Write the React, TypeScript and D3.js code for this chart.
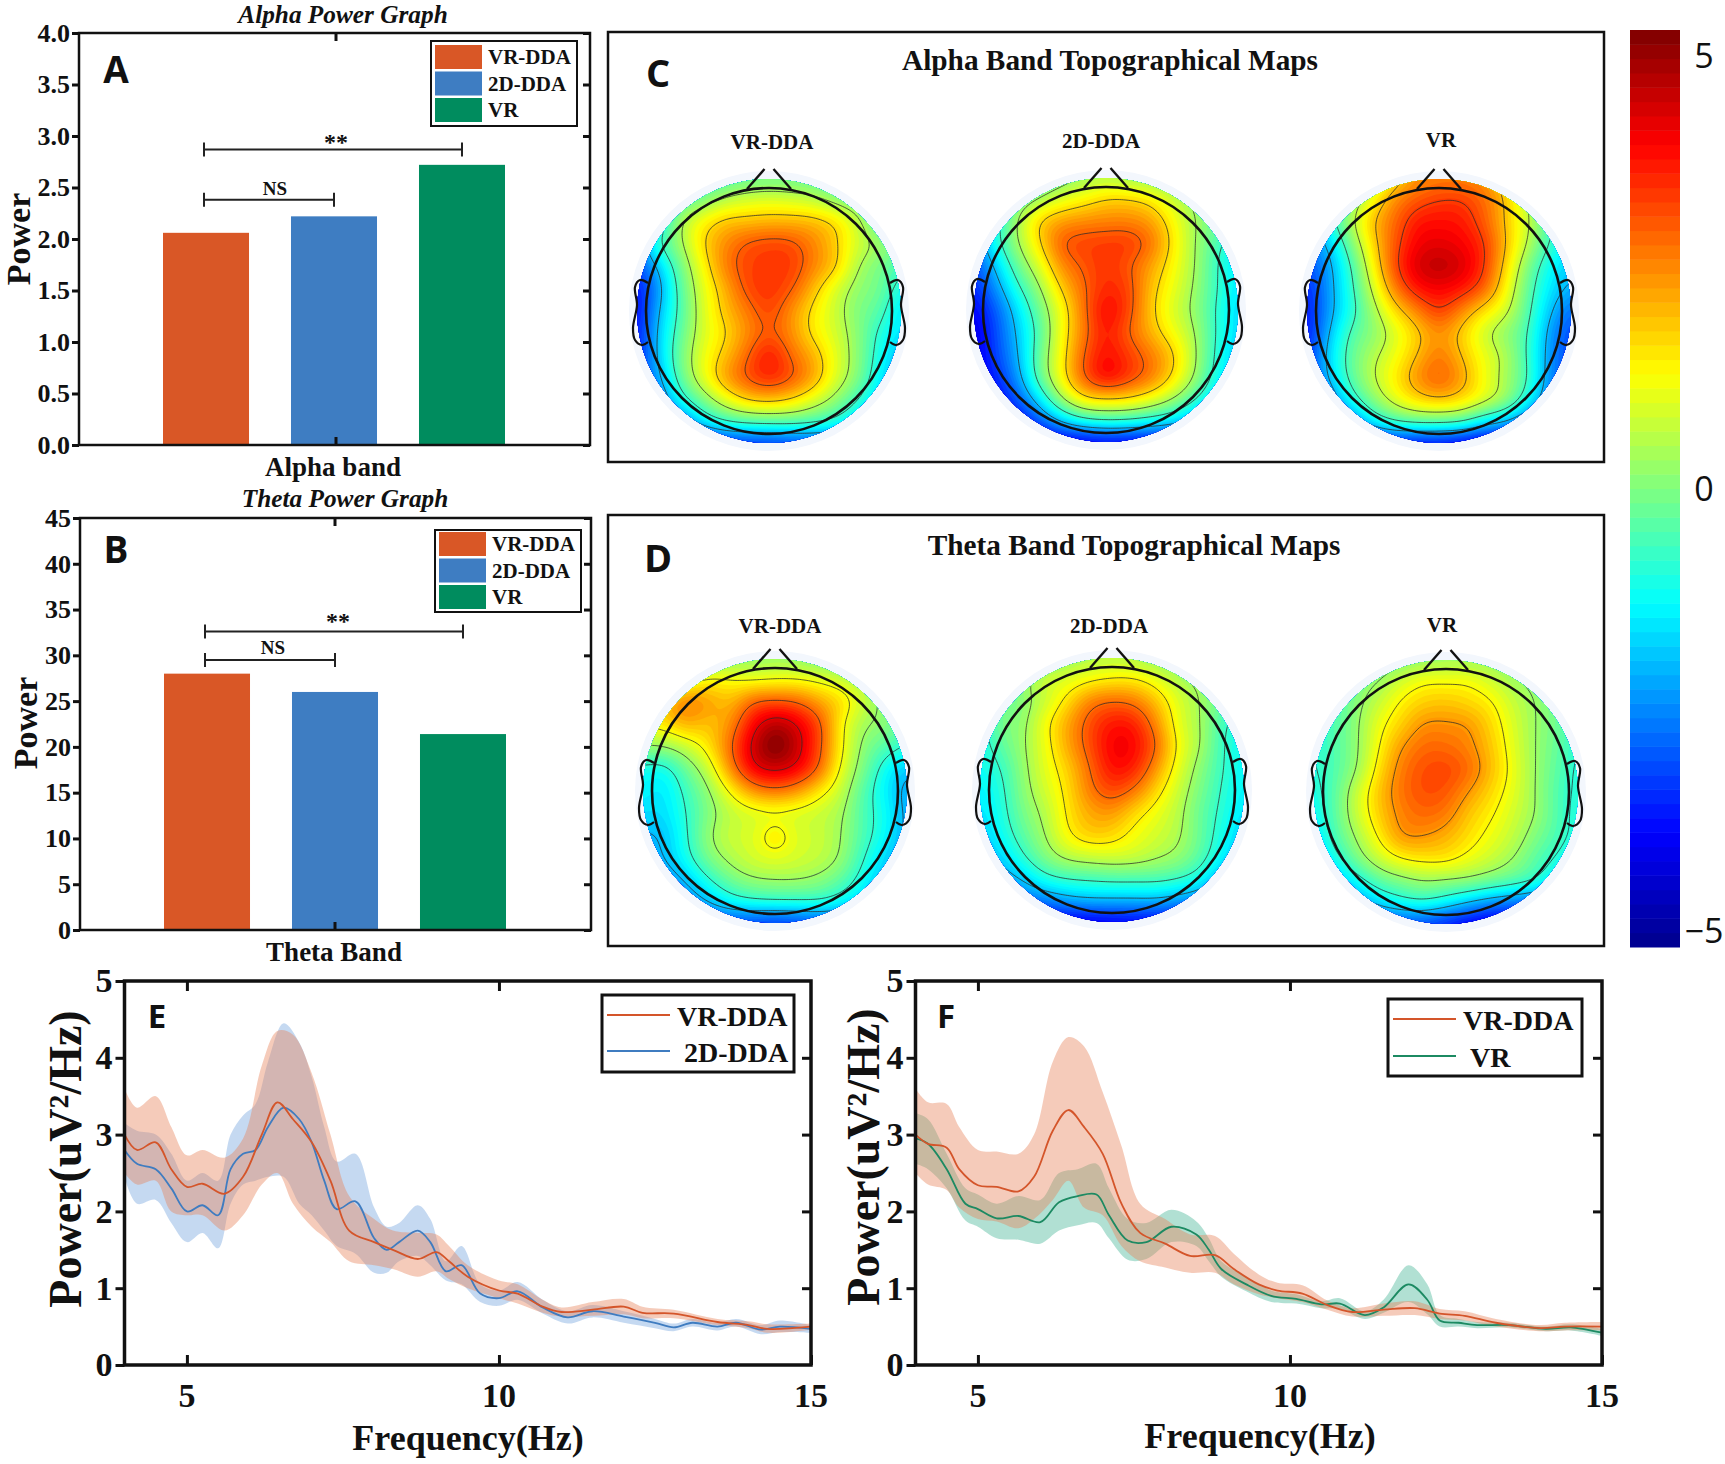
import React, { useEffect, useRef } from "react";
import * as d3 from "d3";

const groups = ["VR-DDA", "2D-DDA", "VR"];
const alphaPower = [2.06, 2.22, 2.72];
const thetaPower = [28, 26, 21.4];
const alphaTicks = [0, 0.5, 1, 1.5, 2, 2.5, 3, 3.5, 4];
const thetaTicks = [0, 5, 10, 15, 20, 25, 30, 35, 40, 45];
const barColors = ["#d95726", "#3e7dc2", "#008c5e"];

// spectra, panel E
const eRedHz = [4, 4.2, 4.5, 4.75, 5, 5.25, 5.6, 5.9, 6.2, 6.45, 6.7, 7, 7.3, 7.6, 8, 8.3, 8.7, 9, 9.2, 9.5, 10, 10.3, 10.7, 11, 11.5, 12, 12.3, 12.8, 13.5, 14, 14.3, 15];
const eRedMean = [3.0, 2.8, 2.9, 2.55, 2.32, 2.36, 2.23, 2.45, 3.0, 3.42, 3.2, 2.9, 2.4, 1.75, 1.6, 1.5, 1.38, 1.47, 1.35, 1.15, 0.97, 0.93, 0.76, 0.69, 0.72, 0.76, 0.68, 0.67, 0.56, 0.52, 0.47, 0.5];
const eRedUp = [3.6, 3.35, 3.5, 3.1, 2.73, 2.8, 2.7, 2.95, 3.9, 4.35, 4.3, 3.8, 3.0, 2.2, 1.9, 1.75, 1.72, 1.7, 1.55, 1.3, 1.1, 1.05, 0.85, 0.75, 0.82, 0.86, 0.76, 0.72, 0.6, 0.57, 0.53, 0.54];
const eRedLow = [2.5, 2.35, 2.4, 2.0, 1.95, 1.95, 1.75, 1.95, 2.35, 2.5, 2.1, 1.8, 1.6, 1.35, 1.3, 1.25, 1.15, 1.22, 1.12, 1.0, 0.87, 0.8, 0.68, 0.63, 0.64, 0.66, 0.61, 0.61, 0.52, 0.48, 0.42, 0.46];
const eBlueHz = [4, 4.2, 4.5, 4.75, 5, 5.25, 5.5, 5.7, 5.9, 6.1, 6.3, 6.55, 6.8, 7, 7.2, 7.4, 7.7, 8, 8.2, 8.4, 8.7, 8.9, 9.15, 9.4, 9.7, 10, 10.3, 10.7, 11.1, 11.5, 12, 12.5, 12.8, 13.1, 13.5, 13.8, 14.2, 14.5, 15];
const eBlueMean = [2.8, 2.62, 2.55, 2.3, 2.0, 2.08, 1.95, 2.55, 2.75, 2.8, 3.1, 3.35, 3.2, 2.9, 2.4, 2.03, 2.13, 1.65, 1.5, 1.6, 1.75, 1.6, 1.22, 1.3, 0.93, 0.87, 0.96, 0.75, 0.62, 0.7, 0.63, 0.55, 0.49, 0.55, 0.5, 0.55, 0.46, 0.5, 0.47];
const eBlueUp = [3.15, 3.05, 3.0, 2.75, 2.4, 2.5, 2.4, 3.0, 3.25, 3.4, 3.95, 4.45, 4.2, 3.75, 3.1, 2.65, 2.75, 2.05, 1.8, 1.85, 2.08, 1.9, 1.35, 1.55, 1.05, 0.97, 1.08, 0.85, 0.7, 0.78, 0.7, 0.6, 0.54, 0.6, 0.55, 0.6, 0.52, 0.58, 0.52];
const eBlueLow = [2.45, 2.1, 2.15, 1.85, 1.6, 1.72, 1.52, 2.1, 2.35, 2.4, 2.45, 2.45, 2.1, 1.95, 1.75, 1.55, 1.45, 1.2, 1.2, 1.35, 1.42, 1.3, 1.1, 1.05, 0.82, 0.77, 0.85, 0.67, 0.54, 0.62, 0.55, 0.48, 0.44, 0.5, 0.45, 0.5, 0.4, 0.43, 0.42];

// spectra, panel F
const fRedHz = [4, 4.2, 4.5, 4.7, 5, 5.3, 5.65, 5.9, 6.2, 6.45, 6.7, 7, 7.3, 7.6, 8, 8.4, 8.8, 9.1, 9.5, 9.8, 10.2, 10.6, 11, 11.5, 12, 12.4, 12.8, 13.3, 14, 14.4, 15];
const fRedMean = [3.0, 2.88, 2.83, 2.55, 2.34, 2.32, 2.26, 2.45, 3.05, 3.32, 3.1, 2.75, 2.1, 1.72, 1.58, 1.42, 1.43, 1.25, 1.05, 0.97, 0.93, 0.78, 0.69, 0.72, 0.74, 0.67, 0.64, 0.55, 0.48, 0.5, 0.5];
const fRedUp = [3.6, 3.42, 3.4, 3.1, 2.8, 2.78, 2.75, 3.0, 3.95, 4.27, 4.15, 3.55, 2.85, 2.1, 1.9, 1.7, 1.68, 1.45, 1.18, 1.07, 1.04, 0.84, 0.74, 0.8, 0.83, 0.73, 0.7, 0.6, 0.52, 0.55, 0.56];
const fRedLow = [2.5, 2.35, 2.28, 2.05, 1.9, 1.87, 1.78, 1.9, 2.15, 2.4, 2.05, 1.95, 1.55, 1.35, 1.27, 1.2, 1.2, 1.05, 0.92, 0.87, 0.82, 0.72, 0.63, 0.64, 0.65, 0.6, 0.58, 0.5, 0.44, 0.45, 0.45];
const fGreenHz = [4, 4.2, 4.5, 4.8, 5, 5.3, 5.65, 6, 6.3, 6.6, 6.9, 7.1, 7.4, 7.7, 8.1, 8.5, 8.7, 8.9, 9.3, 9.7, 10.1, 10.5, 10.8, 11.2, 11.5, 11.9, 12.2, 12.4, 12.7, 13, 13.5, 14.1, 14.5, 15];
const fGreenMean = [2.95, 2.88, 2.55, 2.1, 2.03, 1.91, 1.94, 1.86, 2.12, 2.2, 2.22, 1.95, 1.62, 1.6, 1.8, 1.7, 1.5, 1.25, 1.05, 0.9, 0.86, 0.79, 0.8, 0.65, 0.75, 1.05, 0.85, 0.58, 0.55, 0.52, 0.52, 0.47, 0.49, 0.42];
const fGreenUp = [3.28, 3.2, 2.75, 2.3, 2.22, 2.1, 2.2, 2.15, 2.5, 2.55, 2.62, 2.3, 1.9, 1.85, 2.02, 1.87, 1.65, 1.35, 1.15, 0.97, 0.92, 0.83, 0.87, 0.7, 0.85, 1.3, 1.05, 0.65, 0.6, 0.56, 0.55, 0.5, 0.53, 0.47];
const fGreenLow = [2.62, 2.55, 2.3, 1.88, 1.8, 1.65, 1.63, 1.58, 1.75, 1.82, 1.85, 1.65, 1.37, 1.38, 1.6, 1.55, 1.35, 1.15, 0.96, 0.82, 0.8, 0.74, 0.73, 0.6, 0.68, 0.82, 0.66, 0.5, 0.5, 0.48, 0.49, 0.44, 0.45, 0.38];

// scalp maps: 13x13 readings of the field, top row first, covering the disc's bounding square
const alphaVrDda = [
  [-1, -1, -1, -0.8, -0.5, -0.3, -0.2, -0.2, -0.3, -0.5, -0.8, -1, -1],
  [-2, -1.5, -0.6, 0, 0.6, 0.9, 1, 0.9, 0.7, 0.2, -0.2, -0.5, -0.8],
  [-2.5, -1.5, 0.4, 1.4, 2, 2.1, 2.2, 2.2, 2.1, 1.7, 0.7, -0.5, -1],
  [-3, -0.9, 0.3, 1.7, 2.6, 3.2, 3.4, 3.3, 2.7, 1.9, 0.9, 0.3, -0.3],
  [-3.5, -2, -0.2, 1.3, 2.7, 3.4, 3.5, 3.5, 2.7, 1.9, 0.5, -0.1, -0.7],
  [-4, -2.5, -0.5, 1, 2.2, 3.3, 3.6, 3.2, 2.1, 1, 0.2, -0.2, -1.2],
  [-4.2, -2.2, -0.6, 0.9, 2, 2.8, 3.4, 2.6, 1.6, 0.8, 0, -0.5, -1.7],
  [-4, -2, -0.4, 0.9, 1.7, 2.6, 3.2, 2.6, 1.6, 0.9, 0.1, -1, -1.7],
  [-4, -2, -0.2, 1.1, 2, 3, 3.9, 3, 2.2, 1.1, 0.1, -1.2, -2.2],
  [-3.5, -2.4, -0.4, 1, 2.3, 3.2, 3.7, 3.2, 2.3, 1, 0, -1.5, -2.5],
  [-3.5, -3, -1.3, -0.1, 1, 1.8, 2, 1.7, 1, 0.2, -0.8, -2, -3],
  [-4, -3.5, -3, -1.7, -0.9, -0.6, -0.5, -0.5, -0.7, -1.1, -2, -3, -3.5],
  [-4.5, -4.5, -4.5, -4.3, -4, -3.8, -3.8, -3.6, -3.5, -3.5, -3.8, -4, -4.5],
];
const alpha2dDda = [
  [-1, -1, -1, -0.5, 0, 0.3, 0.5, 0.3, 0.2, 0, -0.3, -1, -1],
  [-1.5, -1, -0.3, 0.4, 1, 1.4, 1.8, 1.8, 1.5, 0.8, 0.2, -0.5, -1],
  [-2, -1.2, 0.4, 1.8, 2.4, 2.6, 2.7, 2.7, 2.4, 1.4, 0.4, -0.2, -0.8],
  [-3, -1.2, 0.3, 1.7, 3.1, 3.4, 3.5, 3.5, 2.9, 1.6, 0.4, -0.6, -1.4],
  [-3.4, -2, -0.3, 1, 2.6, 3.2, 3.6, 3.2, 2.4, 1.4, 0.4, -0.8, -1.6],
  [-3.8, -2.6, -1, 0.3, 1.9, 3, 3.7, 3.4, 2.1, 1.2, 0.3, -0.8, -1.6],
  [-4.2, -3.2, -1.7, -0.2, 1.3, 2.9, 4.1, 3.4, 2, 1, 0.2, -0.9, -1.8],
  [-4.5, -3.4, -2, -0.5, 1.3, 2.8, 3.9, 3.1, 2.2, 1.3, 0.4, -0.9, -1.8],
  [-4.5, -3.5, -2.2, -0.3, 1.4, 3.1, 4, 3.5, 2.8, 1.9, 0.5, -1, -2],
  [-4.5, -3.8, -2.5, -0.4, 1.4, 3.1, 4.1, 3.5, 2.8, 1.7, 0.3, -1.2, -2.2],
  [-4.5, -4.2, -3.2, -1.6, 0.3, 1.6, 1.8, 1.7, 1.2, 0.4, -0.7, -2, -3],
  [-4.5, -4.5, -4.2, -3.2, -2, -1.2, -0.9, -1, -1.3, -1.7, -2.5, -3.5, -4],
  [-5, -5, -5, -4.8, -4.6, -4.5, -4.4, -4.4, -4.4, -4.4, -4.5, -4.7, -5],
];
const alphaVr = [
  [-1, -1, -0.5, 0.3, 1.6, 2.5, 2.7, 2.7, 2.5, 1.6, 0.3, -0.5, -1],
  [-2, -1.3, 0, 1.3, 2.6, 3.2, 3.5, 3.5, 3, 2, 0.6, -0.5, -1.2],
  [-2.5, -1.2, 0.4, 2, 3, 3.9, 4, 3.9, 3.2, 2, 0.8, -0.6, -1.5],
  [-3, -2, -0.2, 1.7, 3.2, 4.2, 4.4, 4.2, 3.6, 2.1, 0.6, -0.8, -1.6],
  [-3.4, -2.4, -0.8, 1.3, 3.3, 4.5, 4.8, 4.5, 3.6, 1.8, 0, -1.3, -2],
  [-3.8, -2.5, -1, 0.8, 2.7, 3.9, 4.2, 3.9, 3.1, 1.4, -0.3, -1.6, -2.3],
  [-4, -2.5, -1.1, 0.3, 1.7, 2.7, 3.5, 2.7, 1.7, 0.9, -0.5, -2, -3],
  [-4, -2.2, -0.6, 0.1, 1, 1.9, 2.6, 1.9, 0.9, 0.2, -0.7, -2.4, -3.4],
  [-3.8, -1.9, -0.4, 0.5, 1.2, 2.1, 2.8, 2.1, 1.2, 0.5, -0.8, -2.5, -3.5],
  [-3.8, -2.1, -0.5, 0.6, 1.5, 2.5, 3.1, 2.4, 1.3, 0.4, -0.7, -2.6, -3.5],
  [-4, -3, -1.3, 0, 1, 1.7, 2, 1.7, 1, 0.2, -1.3, -2.9, -4],
  [-4.2, -3.7, -3, -1.6, -0.8, -0.5, -0.5, -0.7, -1.6, -2.2, -3.2, -4, -4.5],
  [-4.6, -4.6, -4.6, -4.4, -4.2, -4.3, -4.3, -4.5, -4.7, -4.8, -4.9, -5, -5],
];
const thetaVrDda = [
  [-1, -0.8, -0.4, 0, 0.2, 0.2, 0.3, 0.2, 0, -0.2, -0.4, -0.8, -1],
  [-0.5, 0, 0.8, 1.4, 1.3, 1.2, 1.3, 1.3, 1.1, 0.8, 0.4, -0.1, -0.6],
  [1, 2, 2.8, 2.4, 2.1, 3.1, 3.3, 3.1, 2.4, 1.7, 0.8, 0, -0.5],
  [1.5, 1.6, 2.2, 2, 2.6, 4.1, 4.9, 4.4, 3.3, 1.4, 0.4, 0.1, -0.5],
  [0.2, 0.3, 0.8, 1.6, 3, 4.6, 5.5, 4.7, 3.3, 1.4, 0.1, -0.5, -1],
  [-1.1, -1.2, -0.2, 0.8, 2.6, 4.2, 4.6, 4.2, 3, 1.1, -0.1, -1.3, -2],
  [-1.4, -1.6, -0.7, 0.2, 1.4, 2.5, 2.9, 2.5, 1.6, 0.7, -0.5, -1.5, -2.4],
  [-1.7, -1.7, -0.9, 0, 0.7, 1, 1.1, 1, 0.8, 0.4, -0.6, -1.3, -2.4],
  [-2.2, -2, -1, 0.2, 0.8, 1, 1.65, 1, 0.8, 0.3, -0.6, -1.4, -2.4],
  [-2.6, -2.1, -1.2, -0.1, 0.5, 0.9, 1.1, 0.9, 0.7, 0.2, -0.9, -1.8, -2.6],
  [-3, -2.7, -2, -1, -0.2, 0.2, 0.3, 0.3, 0.1, -0.4, -1.3, -2.2, -2.8],
  [-3.4, -3.3, -2.8, -2.1, -1.4, -1.1, -1, -1, -1, -1.4, -2, -2.8, -3.2],
  [-3.5, -3.5, -3.5, -3.5, -3.5, -3.6, -3.8, -3.6, -3.5, -3.4, -3.3, -3.3, -3.4],
];
const theta2dDda = [
  [-1, -0.9, -0.5, -0.1, 0.3, 0.5, 0.6, 0.5, 0.2, 0, -0.3, -0.7, -1],
  [-1.3, -0.8, 0.2, 0.8, 1, 1.3, 1.5, 1.5, 1.1, 0.5, 0.2, -0.2, -0.8],
  [-1.2, -0.4, 0.1, 0.8, 1.7, 2.7, 3, 2.8, 2, 1, 0.35, -0.3, -0.9],
  [-1.2, -0.1, 0.2, 1.3, 2.3, 3.3, 3.9, 3.8, 2.6, 1.1, 0.4, -0.7, -1.2],
  [-1.2, -0.4, 0.3, 1.2, 2.3, 3.3, 4.2, 4.1, 3, 1.3, 0.4, -0.8, -1.3],
  [-1.3, -0.8, 0.2, 1.1, 1.9, 3, 4, 3.8, 2.5, 1.1, 0.1, -0.8, -1.4],
  [-1.5, -1, 0.1, 0.9, 1.7, 2.8, 3.4, 2.9, 1.8, 0.8, -0.1, -0.9, -1.5],
  [-1.7, -1.1, -0.1, 0.6, 1.6, 2.3, 2.5, 1.8, 1.2, 0.6, -0.3, -1, -1.7],
  [-2, -1.3, -0.4, 0.4, 1.4, 1.9, 1.8, 1.3, 0.9, 0.5, -0.3, -1.2, -2],
  [-2.3, -1.8, -0.9, 0, 0.6, 0.8, 0.9, 0.8, 0.5, 0.2, -0.5, -1.5, -2.2],
  [-2.8, -2.5, -1.9, -1.1, -0.8, -0.7, -0.6, -0.6, -0.6, -0.8, -1.3, -2.4, -2.8],
  [-3.5, -3.4, -3.1, -2.8, -2.4, -2.2, -2.2, -2.2, -2.2, -2.5, -2.9, -3.4, -3.6],
  [-4.5, -4.5, -4.5, -4.5, -4.5, -4.5, -4.4, -4.3, -4.3, -4.3, -4.3, -4.5, -4.5],
];
const thetaVr = [
  [-1, -0.8, -0.6, -0.2, 0, 0.2, 0.3, 0.3, 0.2, 0, -0.2, -0.6, -1],
  [-1, -0.6, -0.1, 0.3, 0.9, 1.3, 1.3, 1.3, 0.9, 0.4, 0.1, -0.3, -0.8],
  [-1, -0.6, 0.1, 0.8, 1.5, 1.9, 2, 1.8, 1.5, 0.8, 0.3, -0.2, -0.8],
  [-1, -0.5, 0.2, 1.2, 1.9, 2.6, 2.6, 2.5, 1.8, 1, 0.3, -0.2, -0.9],
  [-1, -0.5, 0.2, 1.4, 2.5, 3, 3, 2.7, 2, 1.1, 0.3, -0.3, -1],
  [-1, -0.5, 0.3, 1.7, 2.8, 3.3, 3.4, 3, 2.1, 1.2, 0.3, -0.4, -1.1],
  [-1.2, -0.4, 0.8, 2, 2.9, 3.3, 3.2, 2.5, 1.8, 1.1, 0.3, -0.5, -1.1],
  [-1.4, -0.4, 0.8, 1.9, 2.7, 3, 2.8, 2, 1.5, 0.9, 0.3, -0.5, -1.2],
  [-1.8, -0.6, 0.4, 1.5, 2.5, 2.5, 2.2, 1.7, 1.2, 0.7, 0, -0.6, -1.2],
  [-2.1, -1.2, -0.1, 0.8, 1.4, 1.6, 1.6, 1.2, 0.8, 0.3, -0.4, -1, -1.7],
  [-2.6, -2.1, -1.3, -0.4, 0, 0.3, 0.2, 0.1, -0.2, -0.5, -0.9, -1.8, -2.4],
  [-3, -2.9, -2.5, -1.8, -1.3, -1.1, -1.5, -2.1, -2.6, -2.9, -3.2, -3.4, -3.5],
  [-3.5, -3.5, -3.5, -3.5, -3.5, -3.6, -4, -4.4, -4.6, -4.6, -4.4, -4.2, -4],
];
const alphaLevels = [[3.1, 1.8, 0.5, -0.8, -2.1], [3.1, 1.8, 0.4, -0.8, -2.1], [3.5, 2.1, 0.7, -0.7, -2.1]];
const thetaLevels = [[4.4, 3.1, 1.3, 0.3, -0.9, -2.1], [3, 1.5, 0.4, -0.8, -2], [2.5, 1.4, 0.3, -0.9, -2]];

const serif = "'Liberation Serif', serif";
const sans = "'Open Sans', sans-serif";

const colorMax = 5.5;
const jet = d3
  .scaleLinear<string>()
  .domain([0, 0.125, 0.375, 0.625, 0.875, 1])
  .range(["#00008c", "#0000ff", "#00ffff", "#ffff00", "#ff0000", "#7d0000"])
  .clamp(true);

type G = d3.Selection<SVGGElement, unknown, null, undefined>;

function label(
  g: G,
  x: number,
  y: number,
  str: string,
  size: number,
  opts: { anchor?: string; family?: string; weight?: string; italic?: boolean; rotate?: boolean } = {}
) {
  g.append("text")
    .attr("transform", `translate(${x},${y})${opts.rotate ? " rotate(-90)" : ""}`)
    .attr("text-anchor", opts.anchor || "middle")
    .attr("font-family", opts.family || serif)
    .attr("font-weight", opts.weight || "bold")
    .attr("font-style", opts.italic ? "italic" : "normal")
    .attr("font-size", size)
    .attr("fill", "#111")
    .text(str);
}

function drawBarPanel(
  parent: G,
  box: { left: number; right: number; top: number; bottom: number; tickX: number },
  values: number[],
  ticks: number[],
  format: (v: number) => string,
  brackets: { ns: number; star: number; nsAt: number[]; starAt: number[] }
) {
  const g = parent.append("g") as unknown as G;
  const { left, right, top, bottom } = box;
  const x = d3.scaleBand<string>().domain(groups).range([left + 84, left + 426]).paddingInner(0.328).paddingOuter(0);
  const y = d3.scaleLinear().domain([ticks[0], ticks[ticks.length - 1]]).range([bottom, top]);

  g.selectAll("rect.bar")
    .data(values)
    .join("rect")
    .attr("class", "bar")
    .attr("x", (_, i) => x(groups[i])!)
    .attr("width", x.bandwidth())
    .attr("y", (d) => y(d))
    .attr("height", (d) => bottom - y(d))
    .attr("fill", (_, i) => barColors[i]);

  const leftAxis = g
    .append("g")
    .attr("transform", `translate(${left},0)`)
    .call(d3.axisLeft(y).tickValues(ticks).tickSize(7).tickFormat((d) => format(d as number)));
  leftAxis.select(".domain").remove();
  leftAxis.selectAll("text").attr("font-family", serif).attr("font-weight", "bold").attr("font-size", 26).attr("fill", "#111").attr("x", -9);
  leftAxis.selectAll("line").attr("stroke", "#111").attr("stroke-width", 3);

  const rightAxis = g
    .append("g")
    .attr("transform", `translate(${right},0)`)
    .call(d3.axisLeft(y).tickValues(ticks).tickSize(7).tickFormat(() => ""));
  rightAxis.select(".domain").remove();
  rightAxis.selectAll("line").attr("stroke", "#111").attr("stroke-width", 3);

  g.selectAll("line.mid")
    .data([[top, top + 8], [bottom - 8, bottom]])
    .join("line")
    .attr("class", "mid")
    .attr("x1", box.tickX)
    .attr("x2", box.tickX)
    .attr("y1", (d) => d[0])
    .attr("y2", (d) => d[1])
    .attr("stroke", "#111")
    .attr("stroke-width", 3);

  g.append("rect")
    .attr("x", left)
    .attr("y", top)
    .attr("width", right - left)
    .attr("height", bottom - top)
    .attr("fill", "none")
    .attr("stroke", "#111")
    .attr("stroke-width", 2.5);

  // significance brackets run between bar centres
  const centre = (i: number) => x(groups[i])! + x.bandwidth() / 2;
  [
    { at: brackets.star, to: 2, text: "**", size: 24, tx: brackets.starAt },
    { at: brackets.ns, to: 1, text: "NS", size: 19, tx: brackets.nsAt },
  ].forEach((b) => {
    const by = y(b.at);
    const path = d3.path();
    path.moveTo(centre(0) - 2, by - 7);
    path.lineTo(centre(0) - 2, by + 7);
    path.moveTo(centre(0) - 2, by);
    path.lineTo(centre(b.to), by);
    path.moveTo(centre(b.to), by - 7);
    path.lineTo(centre(b.to), by + 7);
    g.append("path").attr("d", path.toString()).attr("stroke", "#222").attr("stroke-width", 2).attr("fill", "none");
    label(g, b.tx[0], b.tx[1], b.text, b.size);
  });
}

function drawBarLegend(g: G, x: number, y: number, w: number, h: number, inset: number) {
  g.append("rect").attr("x", x).attr("y", y).attr("width", w).attr("height", h).attr("fill", "#fff").attr("stroke", "#111").attr("stroke-width", 2);
  groups.forEach((name, i) => {
    const rowY = y + inset + i * 26.5;
    g.append("rect").attr("x", x + 4).attr("y", rowY).attr("width", 47).attr("height", 24).attr("fill", barColors[i]);
    label(g, x + 57, rowY + 19, name, 21, { anchor: "start" });
  });
}

interface SpectrumSeries {
  name: string;
  hz: number[];
  mean: number[];
  up: number[];
  low: number[];
  line: string;
  band: string;
  opacity: number;
  labelDx: number;
}

function drawSpectrum(
  g: G,
  box: { left: number; right: number; top: number; bottom: number },
  series: SpectrumSeries[],
  legend: { x: number; y: number; w: number; h: number; row0: number; row1: number }
) {
  const { left, right, top, bottom } = box;
  const x = d3.scaleLinear().domain([4, 15]).range([left, right]);
  const y = d3.scaleLinear().domain([0, 5]).range([bottom, top]);
  const curve = d3.curveCatmullRom.alpha(0.5);

  series.forEach((s) => {
    const area = d3
      .area<number>()
      .x((_, i) => x(s.hz[i]))
      .y0((_, i) => y(s.low[i]))
      .y1((_, i) => y(s.up[i]))
      .curve(curve);
    g.append("path").attr("d", area(s.mean)).attr("fill", s.band).attr("fill-opacity", s.opacity);
  });
  series.forEach((s) => {
    const line = d3
      .line<number>()
      .x((_, i) => x(s.hz[i]))
      .y((d) => y(d))
      .curve(curve);
    g.append("path").attr("d", line(s.mean)).attr("fill", "none").attr("stroke", s.line).attr("stroke-width", 1.8);
  });

  const yAxis = g
    .append("g")
    .attr("transform", `translate(${left},0)`)
    .call(d3.axisLeft(y).tickValues([0, 1, 2, 3, 4, 5]).tickSize(9).tickFormat(d3.format("d") as any));
  yAxis.select(".domain").remove();
  yAxis.selectAll("text").attr("font-family", serif).attr("font-weight", "bold").attr("font-size", 34).attr("fill", "#111").attr("x", -12);
  yAxis.selectAll("line").attr("stroke", "#111").attr("stroke-width", 3);

  const yRight = g
    .append("g")
    .attr("transform", `translate(${right},0)`)
    .call(d3.axisLeft(y).tickValues([1, 2, 3, 4]).tickSize(9).tickFormat(() => ""));
  yRight.select(".domain").remove();
  yRight.selectAll("line").attr("stroke", "#111").attr("stroke-width", 3);

  const xAxis = g
    .append("g")
    .attr("transform", `translate(0,${bottom})`)
    .call(d3.axisTop(x).tickValues([5, 10, 15]).tickSize(10).tickFormat(() => ""));
  xAxis.select(".domain").remove();
  xAxis.selectAll("line").attr("stroke", "#111").attr("stroke-width", 3);
  [5, 10, 15].forEach((v) => label(g, x(v), bottom + 42, String(v), 34));

  const xTop = g
    .append("g")
    .attr("transform", `translate(0,${top})`)
    .call(d3.axisBottom(x).tickValues([5, 10]).tickSize(10).tickFormat(() => ""));
  xTop.select(".domain").remove();
  xTop.selectAll("line").attr("stroke", "#111").attr("stroke-width", 3);

  g.append("rect")
    .attr("x", left)
    .attr("y", top)
    .attr("width", right - left)
    .attr("height", bottom - top)
    .attr("fill", "none")
    .attr("stroke", "#111")
    .attr("stroke-width", 3.5);

  g.append("rect").attr("x", legend.x).attr("y", legend.y).attr("width", legend.w).attr("height", legend.h).attr("fill", "#fff").attr("stroke", "#111").attr("stroke-width", 3);
  [legend.row0, legend.row1].forEach((ry, i) => {
    const s = series[series.length - 1 - i];
    g.append("line").attr("x1", legend.x + 5).attr("x2", legend.x + 68).attr("y1", ry).attr("y2", ry).attr("stroke", s.line).attr("stroke-width", 2);
    label(g, legend.x + 75 + s.labelDx, ry + 11, s.name, 28, { anchor: "start" });
  });
}

// Smooth a coarse reading grid for drawing (Catmull-Rom in both directions, then a light blur)
function upsample(grid: number[][], k: number) {
  const rows = grid.length;
  const n = (rows - 1) * k + 1;
  const out = new Float64Array(n * n);
  const cubic = (a: number, b: number, c: number, d: number, t: number) =>
    0.5 * (2 * b + (c - a) * t + (2 * a - 5 * b + 4 * c - d) * t * t + (3 * b - a - 3 * c + d) * t * t * t);
  const at = (r: number, c: number) => grid[Math.max(0, Math.min(rows - 1, r))][Math.max(0, Math.min(rows - 1, c))];
  for (let i = 0; i < n; i++) {
    const r = Math.min(Math.floor(i / k), rows - 2);
    const tr = i / k - r;
    for (let j = 0; j < n; j++) {
      const c = Math.min(Math.floor(j / k), rows - 2);
      const tc = j / k - c;
      const col = [-1, 0, 1, 2].map((dr) => cubic(at(r + dr, c - 1), at(r + dr, c), at(r + dr, c + 1), at(r + dr, c + 2), tc));
      out[i * n + j] = cubic(col[0], col[1], col[2], col[3], tr);
    }
  }
  d3.blur2({ data: out, width: n, height: n }, 3);
  return { values: Array.from(out), n };
}

let clipCount = 0;

function drawScalpMap(g: G, cx: number, cy: number, grid: number[][], levels: number[]) {
  const headR = 123;
  const discR = 132;
  const gridR = 133.5;
  const { values, n } = upsample(grid, 10);
  const scale = (2 * gridR) / (n - 1);
  const projection = d3.geoIdentity().scale(scale).translate([cx - gridR - 0.5 * scale, cy - gridR - 0.5 * scale]);
  const path = d3.geoPath(projection as any);
  const id = `disc-${clipCount++}`;

  g.append("circle").attr("cx", cx).attr("cy", cy).attr("r", discR + 8).attr("fill", "#f3f7fd");
  g.append("clipPath").attr("id", id).append("circle").attr("cx", cx).attr("cy", cy).attr("r", discR);

  const layer = g.append("g").attr("clip-path", `url(#${id})`);
  const steps = d3.range(64);
  const thresholds = steps.map((i) => -colorMax + (i * 2 * colorMax) / 64);
  const bands = d3.contours().size([n, n]).thresholds(thresholds)(values);
  layer.append("circle").attr("cx", cx).attr("cy", cy).attr("r", discR).attr("fill", jet(0));
  layer
    .selectAll("path.band")
    .data(bands)
    .join("path")
    .attr("class", "band")
    .attr("d", (d) => path(d as any))
    .attr("fill", (_, i) => jet((i + 0.5) / 64));
  layer
    .selectAll("path.level")
    .data(d3.contours().size([n, n]).thresholds(levels)(values))
    .join("path")
    .attr("class", "level")
    .attr("d", (d) => path(d as any))
    .attr("fill", "none")
    .attr("stroke", "#2b2b2b")
    .attr("stroke-width", 1)
    .attr("stroke-opacity", 0.75);

  g.append("circle").attr("cx", cx).attr("cy", cy).attr("r", headR).attr("fill", "none").attr("stroke", "#111").attr("stroke-width", 2.6);

  // nose and ears, offsets from the head centre
  const outline = d3.line().curve(d3.curveCatmullRom.alpha(0.5));
  [-1, 1].forEach((side) => {
    g.append("path")
      .attr("d", d3.line()([[cx + side * 22, cy - 122], [cx + side * 4.5, cy - 142]]))
      .attr("stroke", "#111")
      .attr("stroke-width", 2.4)
      .attr("fill", "none");
    const ear: [number, number][] = [
      [121, -28], [129, -31], [134, -24], [132, -6], [136, 17], [134, 29], [127, 34], [121, 31],
    ].map((p) => [cx + side * p[0], cy + p[1]]);
    g.append("path").attr("d", outline(ear)).attr("stroke", "#111").attr("stroke-width", 2.2).attr("fill", "none");
  });
}

function App() {
  const svgRef = useRef<SVGSVGElement>(null);

  useEffect(() => {
    if (!svgRef.current) return;
    const svg = d3.select(svgRef.current);
    svg.selectAll("*").remove();
    clipCount = 0;
    const root = svg.append("g") as unknown as G;

    // A
    drawBarPanel(root, { left: 79, right: 590, top: 33, bottom: 445, tickX: 336 }, alphaPower, alphaTicks, d3.format(".1f"), {
      ns: 2.38, star: 2.87, nsAt: [275, 195], starAt: [336, 150],
    });
    drawBarLegend(root, 431, 41, 146, 85, 4);
    label(root, 343, 23, "Alpha Power Graph", 25.3, { italic: true });
    label(root, 333, 476, "Alpha band", 27);
    label(root, 30, 239, "Power", 34, { rotate: true });
    label(root, 116, 83, "A", 37, { family: sans });

    // B
    drawBarPanel(root, { left: 80, right: 591, top: 518, bottom: 930, tickX: 335 }, thetaPower, thetaTicks, d3.format("d"), {
      ns: 29.5, star: 32.6, nsAt: [273, 654], starAt: [338, 629],
    });
    drawBarLegend(root, 435, 530, 146, 82, 2);
    label(root, 345, 507, "Theta Power Graph", 25.3, { italic: true });
    label(root, 334, 961, "Theta Band", 27);
    label(root, 37, 723, "Power", 34, { rotate: true });
    label(root, 116, 563, "B", 37, { family: sans });

    // C and D frames
    [[608, 32, 996, 430], [608, 515, 996, 431]].forEach((b) => {
      root.append("rect").attr("x", b[0]).attr("y", b[1]).attr("width", b[2]).attr("height", b[3]).attr("fill", "none").attr("stroke", "#111").attr("stroke-width", 2.5);
    });
    label(root, 1110, 70, "Alpha Band Topographical Maps", 29.3);
    label(root, 1134, 555, "Theta Band Topographical Maps", 29.3);
    label(root, 658, 87, "C", 38, { family: sans });
    label(root, 658, 572, "D", 38, { family: sans });

    const alphaMaps = [alphaVrDda, alpha2dDda, alphaVr];
    const thetaMaps = [thetaVrDda, theta2dDda, thetaVr];
    const alphaCentres = [[769, 311], [1106, 310], [1439, 311]];
    const thetaCentres = [[775, 791], [1112, 790], [1446, 792]];
    const alphaNames = [[772, 149], [1101, 148], [1441, 147]];
    const thetaNames = [[780, 633], [1109, 633], [1442, 632]];
    groups.forEach((name, i) => {
      drawScalpMap(root, alphaCentres[i][0], alphaCentres[i][1], alphaMaps[i], alphaLevels[i]);
      drawScalpMap(root, thetaCentres[i][0], thetaCentres[i][1], thetaMaps[i], thetaLevels[i]);
      label(root, alphaNames[i][0], alphaNames[i][1], name, 21);
      label(root, thetaNames[i][0], thetaNames[i][1], name, 21);
    });

    // colour bar
    const barTop = 30;
    const barBottom = 947;
    const barY = d3.scaleBand<number>().domain(d3.range(64)).range([barBottom, barTop]);
    root
      .selectAll("rect.cb")
      .data(d3.range(64))
      .join("rect")
      .attr("class", "cb")
      .attr("x", 1630)
      .attr("width", 50)
      .attr("y", (d) => barY(d)!)
      .attr("height", barY.bandwidth() + 0.5)
      .attr("fill", (d) => jet((d + 0.5) / 64));
    const cbTicks = d3.scaleLinear().domain([-5.3, 5.3]).range([barBottom, barTop]);
    [5, 0, -5].forEach((v) => {
      const s = v < 0 ? `\u2212${-v}` : String(v);
      label(root, 1704, cbTicks(v) + 12 + (v < 0 ? 10 : 0), s, 34, { family: sans, weight: "normal" });
    });

    // E
    const redE: SpectrumSeries = { name: "VR-DDA", hz: eRedHz, mean: eRedMean, up: eRedUp, low: eRedLow, line: "#d4552a", band: "#e8825a", opacity: 0.42, labelDx: 0 };
    const blueE: SpectrumSeries = { name: "2D-DDA", hz: eBlueHz, mean: eBlueMean, up: eBlueUp, low: eBlueLow, line: "#3f7cc0", band: "#5d97d8", opacity: 0.36, labelDx: 7 };
    drawSpectrum(root, { left: 124.5, right: 811, top: 981, bottom: 1365 }, [blueE, redE], { x: 602, y: 995, w: 192, h: 77, row0: 1015, row1: 1051 });
    label(root, 81, 1159, "Power(uV\u00b2/Hz)", 46, { rotate: true });
    label(root, 468, 1450, "Frequency(Hz)", 36);
    label(root, 157, 1028, "E", 33, { family: sans });

    // F
    const redF: SpectrumSeries = { name: "VR-DDA", hz: fRedHz, mean: fRedMean, up: fRedUp, low: fRedLow, line: "#d4552a", band: "#e8825a", opacity: 0.42, labelDx: 0 };
    const greenF: SpectrumSeries = { name: "VR", hz: fGreenHz, mean: fGreenMean, up: fGreenUp, low: fGreenLow, line: "#1c8a62", band: "#45b596", opacity: 0.42, labelDx: 7 };
    drawSpectrum(root, { left: 915.5, right: 1602, top: 981, bottom: 1365 }, [greenF, redF], { x: 1388, y: 999, w: 194, h: 77, row0: 1019, row1: 1056 });
    label(root, 879, 1157, "Power(uV\u00b2/Hz)", 46, { rotate: true });
    label(root, 1260, 1448, "Frequency(Hz)", 36);
    label(root, 946, 1028, "F", 33, { family: sans });
  }, []);

  return (
    <svg
      ref={svgRef}
      width={1725}
      height={1464}
      style={{ position: "absolute", left: 0, top: 0, background: "#fff" }}
    />
  );
}

export default App;
